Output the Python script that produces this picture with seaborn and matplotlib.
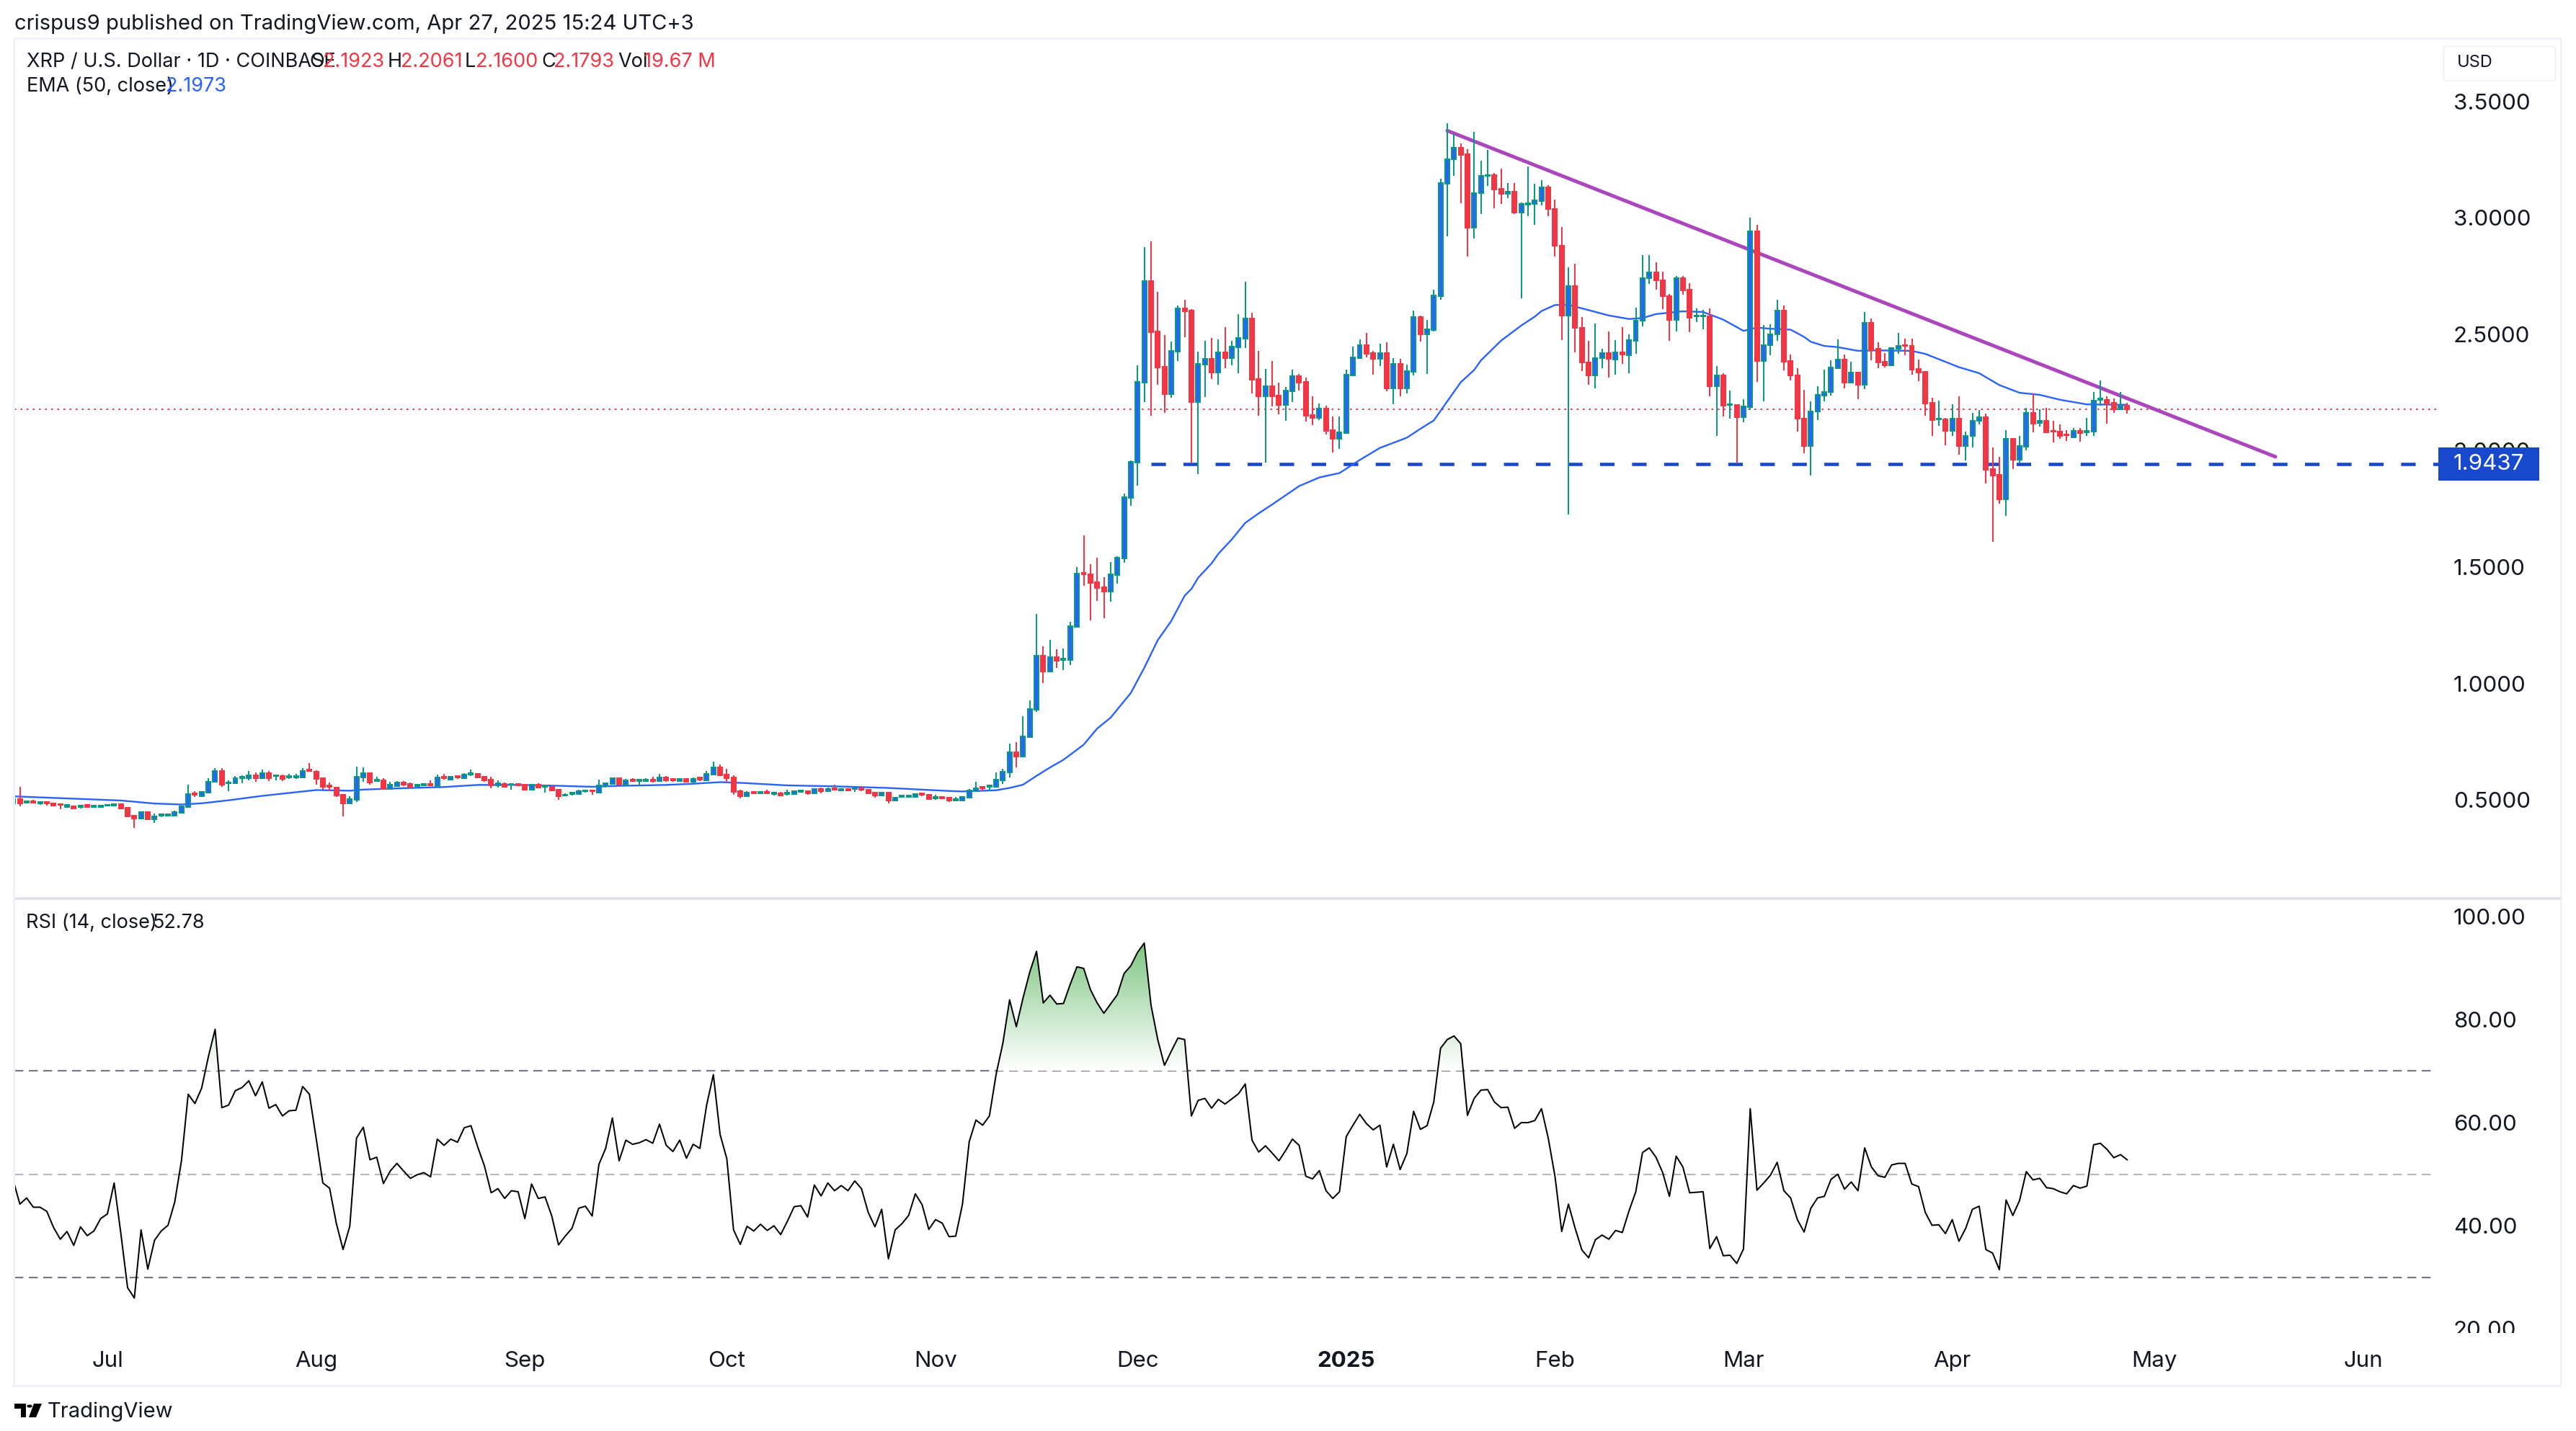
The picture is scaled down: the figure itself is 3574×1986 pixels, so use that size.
import numpy as np
import pandas as pd
import matplotlib.pyplot as plt
import matplotlib.dates as mdates
from matplotlib.colors import LinearSegmentedColormap
from matplotlib.patches import Rectangle, Circle, Polygon, FancyBboxPatch
from matplotlib.path import Path
from matplotlib.transforms import Bbox
import seaborn as sns

# XRP/USD daily candles, one value per day from 2024-06-17
start_date = "2024-06-17"

opens = [.485,
    .503,.488,.495,.485,.490,.485,.482,.470,.473,.469,.477,.468,.468,.474,.474,.482,.466,.432,.421,.448,
    .415,.433,.432,.433,.445,.470,.528,.516,.532,.576,.624,.570,.570,.594,.593,.606,.593,.615,.601,.603,
    .595,.595,.596,.630,.621,.593,.562,.553,.522,.485,.500,.596,.615,.581,.584,.547,.560,.575,.569,.559,
    .562,.569,.559,.600,.587,.603,.593,.609,.612,.600,.587,.562,.569,.564,.569,.565,.544,.565,.556,.556,
    .544,.520,.526,.525,.536,.541,.531,.559,.569,.593,.565,.587,.582,.581,.587,.581,.596,.590,.581,.590,
    .578,.595,.584,.609,.640,.609,.596,.538,.516,.534,.528,.534,.525,.528,.525,.525,.534,.538,.528,.547,
    .538,.550,.541,.547,.545,.550,.544,.531,.519,.531,.497,.513,.513,.513,.528,.522,.507,.513,.510,.497,
    .497,.510,.537,.555,.556,.555,.583,.617,.704,.685,.769,.887,1.119,1.051,1.113,1.100,1.100,1.243,1.475,1.469,
    1.435,1.413,1.394,1.466,1.537,1.798,1.949,2.293,2.729,2.512,2.361,2.243,2.426,2.611,2.602,2.209,2.370,2.395,2.336,2.423,
    2.398,2.444,2.481,2.568,2.308,2.234,2.277,2.237,2.197,2.255,2.320,2.296,2.153,2.141,2.181,2.088,2.051,2.076,2.323,2.398,
    2.453,2.419,2.395,2.419,2.268,2.373,2.268,2.339,2.574,2.500,2.519,2.664,3.147,3.251,3.301,3.275,2.958,3.108,3.182,3.183,
    3.125,3.104,3.113,3.022,3.058,3.060,3.072,3.133,3.040,2.881,2.582,2.707,2.529,2.379,2.323,2.398,2.420,2.391,2.424,2.410,
    2.472,2.559,2.740,2.766,2.732,2.664,2.563,2.741,2.691,2.576,2.577,2.577,2.277,2.322,2.196,2.197,2.143,2.188,2.944,2.384,
    2.454,2.500,2.601,2.384,2.325,2.139,2.019,2.168,2.236,2.251,2.354,2.393,2.292,2.337,2.282,2.548,2.437,2.381,2.368,2.437,
    2.455,2.452,2.350,2.340,2.207,2.135,2.136,2.086,2.139,2.021,2.062,2.127,2.145,1.922,1.897,1.792,2.052,1.962,2.018,2.161,
    2.120,2.127,2.085,2.082,2.071,2.058,2.086,2.079,2.083,2.218,2.219,2.207,2.179,2.1923]

highs = [.503,
    .555,.497,.500,.495,.490,.488,.482,.479,.476,.476,.480,.476,.477,.482,.485,.485,.466,.432,.448,.448,
    .442,.439,.442,.454,.476,.565,.538,.538,.593,.637,.637,.584,.603,.606,.624,.618,.630,.624,.609,.609,
    .612,.612,.637,.658,.627,.593,.575,.556,.525,.516,.643,.640,.618,.600,.593,.578,.581,.581,.575,.569,
    .569,.584,.609,.612,.603,.603,.615,.630,.612,.600,.600,.584,.575,.569,.572,.565,.569,.572,.565,.559,
    .547,.528,.532,.544,.541,.541,.587,.572,.596,.593,.590,.593,.587,.593,.600,.612,.603,.593,.590,.593,
    .596,.596,.624,.665,.652,.634,.606,.544,.538,.534,.534,.544,.534,.534,.544,.541,.541,.538,.550,.553,
    .553,.565,.550,.547,.550,.559,.547,.531,.531,.531,.513,.519,.519,.528,.528,.522,.522,.513,.510,.512,
    .515,.546,.577,.558,.562,.617,.633,.741,.747,.859,.927,1.298,1.159,1.187,1.147,1.150,1.264,1.500,1.636,1.512,
    1.540,1.456,1.521,1.546,1.816,1.958,2.367,2.875,2.899,2.683,2.497,2.469,2.624,2.649,2.608,2.426,2.472,2.484,2.478,2.531,
    2.472,2.587,2.726,2.593,2.429,2.351,2.385,2.293,2.274,2.348,2.330,2.314,2.234,2.203,2.193,2.147,2.147,2.348,2.447,2.478,
    2.506,2.429,2.460,2.466,2.398,2.395,2.370,2.602,2.580,2.562,2.692,3.170,3.408,3.362,3.321,3.296,3.371,3.245,3.293,3.194,
    3.212,3.150,3.150,3.065,3.221,3.146,3.162,3.140,3.078,2.960,2.789,2.804,2.575,2.471,2.546,2.437,2.512,2.475,2.531,2.500,
    2.614,2.841,2.839,2.810,2.768,2.672,2.751,2.751,2.720,2.612,2.606,2.612,2.365,2.332,2.257,2.201,2.220,3.003,2.972,2.540,
    2.543,2.648,2.623,2.413,2.353,2.263,2.213,2.278,2.347,2.390,2.477,2.412,2.381,2.340,2.595,2.567,2.467,2.418,2.443,2.505,
    2.480,2.480,2.393,2.343,2.226,2.216,2.142,2.201,2.235,2.083,2.161,2.176,2.158,2.015,1.975,2.089,2.055,2.065,2.185,2.247,
    2.179,2.185,2.127,2.114,2.089,2.099,2.096,2.142,2.251,2.303,2.235,2.223,2.251,2.2061]

lows = [.485,
    .472,.486,.485,.479,.476,.473,.460,.468,.463,.464,.466,.466,.466,.471,.473,.460,.429,.380,.420,.414,
    .401,.426,.429,.432,.442,.469,.513,.516,.531,.575,.556,.538,.569,.572,.584,.578,.590,.581,.584,.581,
    .590,.590,.593,.624,.565,.544,.538,.513,.429,.484,.491,.578,.565,.580,.544,.544,.559,.559,.550,.553,
    .560,.562,.559,.587,.585,.590,.590,.603,.593,.578,.550,.553,.556,.544,.559,.541,.544,.553,.531,.538,
    .500,.519,.519,.525,.531,.522,.531,.554,.565,.565,.559,.578,.560,.578,.575,.578,.578,.578,.581,.578,
    .572,.581,.584,.606,.606,.575,.522,.507,.513,.525,.525,.528,.519,.519,.519,.525,.534,.522,.525,.528,
    .534,.541,.538,.538,.534,.538,.528,.510,.519,.485,.497,.513,.510,.513,.516,.500,.500,.503,.491,.493,
    .497,.510,.537,.537,.537,.552,.568,.596,.639,.682,.769,.877,1.001,1.051,1.066,1.057,1.079,1.243,1.419,1.271,
    1.354,1.280,1.351,1.428,1.520,1.763,1.850,2.209,2.150,2.283,2.162,2.227,2.385,2.488,1.949,1.899,2.231,2.308,2.283,2.354,
    2.367,2.333,2.441,2.246,2.150,1.949,2.190,2.156,2.128,2.209,2.258,2.125,2.110,2.132,2.070,1.992,2.008,2.076,2.323,2.395,
    2.401,2.327,2.364,2.255,2.200,2.234,2.246,2.323,2.469,2.330,2.512,2.649,2.922,3.180,3.063,2.833,2.912,3.016,3.139,3.041,
    3.059,3.084,3.016,2.656,3.008,2.972,3.054,3.007,2.833,2.475,1.726,2.422,2.343,2.283,2.269,2.355,2.314,2.326,2.372,2.333,
    2.415,2.534,2.718,2.693,2.609,2.471,2.512,2.671,2.509,2.552,2.521,2.235,2.065,2.148,2.139,1.950,2.121,2.175,2.297,2.213,
    2.410,2.471,2.344,2.303,2.083,1.990,1.892,2.133,2.213,2.238,2.354,2.269,2.292,2.220,2.266,2.390,2.356,2.359,2.365,2.415,
    2.409,2.328,2.300,2.151,2.062,2.108,2.024,2.065,1.984,1.959,2.015,2.114,1.860,1.609,1.773,1.721,1.922,1.947,2.003,2.080,
    2.105,2.080,2.037,2.052,2.043,2.058,2.040,2.062,2.065,2.192,2.117,2.164,2.179,2.1600]

closes = [.503,
    .485,.495,.488,.492,.485,.476,.477,.477,.464,.475,.469,.474,.475,.479,.482,.463,.430,.420,.448,.415,
    .429,.437,.439,.448,.473,.525,.522,.534,.578,.624,.566,.575,.593,.600,.606,.593,.615,.593,.606,.590,
    .603,.603,.624,.624,.590,.556,.556,.519,.485,.503,.600,.615,.575,.587,.545,.565,.575,.565,.556,.565,
    .567,.562,.596,.593,.600,.596,.609,.615,.597,.584,.562,.572,.556,.569,.562,.544,.565,.553,.562,.541,
    .516,.523,.531,.538,.541,.536,.562,.572,.593,.565,.584,.581,.587,.587,.581,.596,.584,.584,.590,.578,
    .590,.587,.612,.640,.606,.593,.534,.516,.531,.528,.534,.528,.532,.519,.531,.538,.541,.528,.547,.538,
    .547,.544,.547,.541,.550,.544,.528,.519,.531,.497,.510,.519,.519,.525,.522,.503,.513,.507,.497,.503,
    .512,.539,.551,.549,.562,.586,.620,.704,.685,.772,.890,1.119,1.051,1.113,1.097,1.106,1.246,1.472,1.469,1.432,
    1.410,1.394,1.469,1.540,1.800,1.952,2.296,2.729,2.509,2.358,2.243,2.429,2.611,2.599,2.209,2.373,2.395,2.336,2.423,2.398,
    2.447,2.484,2.568,2.305,2.234,2.277,2.234,2.197,2.258,2.320,2.293,2.150,2.141,2.181,2.085,2.051,2.079,2.327,2.401,2.453,
    2.416,2.395,2.419,2.268,2.373,2.268,2.342,2.574,2.500,2.522,2.667,3.150,3.251,3.301,3.272,2.958,3.108,3.180,3.185,3.122,
    3.104,3.112,3.022,3.059,3.062,3.075,3.133,3.039,2.881,2.582,2.707,2.528,2.379,2.323,2.398,2.420,2.395,2.424,2.414,2.474,
    2.560,2.741,2.766,2.732,2.663,2.563,2.741,2.690,2.571,2.581,2.581,2.277,2.322,2.193,2.201,2.143,2.190,2.944,2.384,2.454,
    2.501,2.601,2.381,2.325,2.137,2.019,2.170,2.240,2.253,2.359,2.393,2.292,2.337,2.282,2.548,2.433,2.378,2.368,2.440,2.452,
    2.451,2.347,2.337,2.204,2.133,2.139,2.086,2.139,2.021,2.065,2.130,2.145,1.919,1.894,1.792,2.052,1.962,2.021,2.161,2.117,
    2.127,2.080,2.082,2.065,2.068,2.086,2.077,2.085,2.216,2.223,2.204,2.179,2.192,2.1793]

# EMA 50 read at a handful of days, days counted from start_date
ema_days = [0,8,16,21,25,28,32,37,45,50,52,58,64,69,75,80,86,90,97,101,105,108,115,122,130,139,141,146,148,150,152,
    154,156,159,161,163,166,168,170,172,174,175,176,178,179,181,183,185,187,191,194,197,200,203,207,209,211,215,217,
    218,221,224,226,227,229,231,234,237,240,242,244,246,248,251,254,257,259,261,264,266,267,269,271,274,277,282,284,
    289,292,295,298,301,304,308,314]
ema_values = [.515,.506,.497,.484,.480,.485,.498,.517,.542,.539,.544,.550,.555,.564,.564,.561,.556,.560,.564,.569,.576,
    .573,.562,.558,.551,.538,.536,.541,.551,.565,.603,.639,.672,.737,.806,.853,.959,1.067,1.186,1.268,1.377,1.406,
    1.454,1.516,1.557,1.619,1.690,1.731,1.769,1.848,1.885,1.904,1.960,2.012,2.056,2.094,2.130,2.294,2.347,2.388,
    2.473,2.538,2.576,2.600,2.626,2.627,2.604,2.581,2.566,2.570,2.587,2.593,2.599,2.596,2.563,2.515,2.529,2.524,
    2.520,2.489,2.468,2.450,2.445,2.429,2.431,2.429,2.416,2.359,2.333,2.282,2.249,2.240,2.219,2.199,2.1973]

# RSI 14, same days as the candles
rsi = [48.9,
    44.2,45.4,43.6,43.6,42.8,39.7,37.4,38.9,36.2,39.8,38.1,39.0,41.4,42.3,48.3,38.5,28.0,26.0,39.2,31.6,
    37.2,39.0,40.1,44.6,52.6,65.5,63.7,66.7,72.8,78.1,62.9,63.4,66.2,66.8,68.1,65.2,67.9,62.8,63.5,61.3,
    62.3,62.4,67.0,65.5,57.0,48.3,47.3,40.5,35.4,39.9,57.0,59.1,52.8,53.3,48.2,50.6,52.1,50.6,49.2,49.9,
    50.3,49.5,56.8,55.6,56.8,56.2,59.0,59.4,55.3,51.6,46.4,47.2,45.3,46.8,46.6,41.4,48.1,45.3,45.6,41.9,
    36.3,38.0,39.5,43.4,43.8,41.9,51.9,55.0,60.9,52.6,56.6,55.8,56.1,56.7,56.0,59.7,55.6,54.4,56.6,53.1,
    55.8,55.0,63.4,69.3,57.7,53.0,39.2,36.4,39.9,39.0,40.3,39.1,40.0,38.3,40.9,43.7,43.9,41.7,47.9,45.8,
    48.3,46.8,47.8,46.8,48.7,47.2,42.6,39.8,43.2,33.6,39.2,40.4,42.0,46.2,44.1,39.3,41.2,40.5,37.9,38.0,
    44.2,56.3,60.5,59.5,61.3,69.4,75.4,83.8,78.6,84.2,89.2,93.2,83.2,84.7,83.0,83.1,86.8,90.2,89.9,85.8,
    83.2,81.2,83.0,84.8,88.9,90.4,93.0,94.8,82.8,76.1,71.1,73.8,76.4,76.1,61.3,64.3,64.7,62.8,64.5,63.6,
    64.6,65.6,67.5,56.6,54.3,55.5,54.1,52.6,54.6,56.8,55.6,49.6,49.1,50.7,46.8,45.3,46.6,57.3,59.5,61.6,
    59.8,58.6,59.5,51.4,55.8,50.9,54.0,62.2,58.7,59.4,64.0,74.4,76.1,76.8,75.3,61.4,64.7,66.3,66.4,64.0,
    62.9,63.0,58.9,60.0,60.0,60.4,62.7,57.0,49.6,38.9,44.2,39.5,35.3,33.8,37.3,38.2,37.4,39.1,38.7,42.9,
    46.6,54.2,55.1,53.3,50.3,45.7,53.5,51.4,46.4,46.5,46.6,35.6,37.9,34.2,34.3,32.7,35.5,62.7,46.9,48.3,
    49.8,52.3,46.8,45.4,41.2,38.8,43.4,45.4,45.7,49.0,50.0,47.1,48.5,46.8,55.1,51.4,49.7,49.4,51.8,52.1,
    52.1,48.1,47.6,42.6,40.1,40.2,38.5,41.2,37.0,39.5,43.2,43.8,35.4,34.7,31.5,45.0,42.0,44.9,50.5,48.9,
    49.2,47.4,47.2,46.6,46.2,47.8,47.3,47.7,55.7,56.0,54.8,53.2,53.8,52.78]

price_ticks = [0.5, 1.0, 1.5, 2.0, 2.5, 3.0, 3.5]
rsi_ticks = [20, 40, 60, 80, 100]
month_ticks = ["2024-07-01", "2024-08-01", "2024-09-01", "2024-10-01", "2024-11-01", "2024-12-01",
               "2025-01-01", "2025-02-01", "2025-03-01", "2025-04-01", "2025-05-01", "2025-06-01"]
month_labels = ["Jul", "Aug", "Sep", "Oct", "Nov", "Dec", "2025", "Feb", "Mar", "Apr", "May", "Jun"]

support_level = 1.9437
last_close = 2.1793
trend_dates = ["2025-01-16", "2025-05-19"]
trend_prices = [3.375, 1.974]

GREEN = "#089981"
RED = "#F23645"
BLUE = "#2962FF"
NAVY = "#1848CC"
PURPLE = "#AB47BC"
INK = "#131722"
BORDER = "#F0F3FA"

W, H = 3574, 1986
sns.set_theme(style="white")
plt.rcParams["font.family"] = ["Inter", "DejaVu Sans"]

candles = pd.DataFrame({"date": pd.date_range(start_date, periods=len(opens)),
                        "open": opens, "high": highs, "low": lows, "close": closes, "rsi": rsi})
candles["up"] = candles["close"] >= candles["open"]
ema = pd.DataFrame({"date": pd.Timestamp(start_date) + pd.to_timedelta(ema_days, unit="D"), "ema": ema_values})

fig = plt.figure(figsize=(W / 100, H / 100), dpi=100, facecolor="white")


def px_axes(x0, y0, x1, y1):
    return fig.add_axes([x0 / W, 1 - y1 / H, (x1 - x0) / W, (y1 - y0) / H])


def px_text(x, y, s, size=19, color=INK, **kw):
    fig.text(x / W, 1 - y / H, s, fontsize=size, color=color, va="center", **kw)


def px_rect(x0, y0, x1, y1, color):
    fig.add_artist(Rectangle((x0 / W, 1 - y1 / H), (x1 - x0) / W, (y1 - y0) / H, transform=fig.transFigure,
                             facecolor=color, edgecolor="none"))


ax = px_axes(20, 53, 3383, 1247)
ax_rsi = px_axes(20, 1249, 3383, 1850)

# x limits: one day is 9.34 px, first full candle sits at x=27.6
x_left = pd.Timestamp("2024-06-18") - pd.Timedelta(days=0.81)
x_right = pd.Timestamp("2024-06-18") + pd.Timedelta(days=359.2)

# price pane
ax.axhline(last_close, color=RED, lw=1.44, ls=(0, (1.25, 3)), zorder=1)
ax.hlines(support_level, pd.Timestamp("2024-12-03"), x_right, color=NAVY, lw=3.3, ls=(0, (4.4, 5.3)), zorder=1)
ax.plot(pd.to_datetime(trend_dates), trend_prices, color=PURPLE, lw=3.6, zorder=1.5, solid_capstyle="round")
sns.lineplot(data=ema, x="date", y="ema", ax=ax, color=BLUE, linewidth=1.7, errorbar=None, zorder=2)

wick_colors = [GREEN if u else RED for u in candles["up"]]
ax.vlines(candles["date"], candles["low"], candles["high"], colors=wick_colors, lw=1.44, zorder=3)
body_bottom = candles[["open", "close"]].min(axis=1)
body_height = (candles["close"] - candles["open"]).abs()
ax.bar(candles["date"], body_height, bottom=body_bottom, width=0.64,
       color=[BLUE if u else RED for u in candles["up"]], edgecolor=wick_colors, linewidth=1.44, zorder=4)

ax.set_xlim(x_left, x_right)
ax.set_ylim(0.0759, 3.7724)
ax.set_yticks(price_ticks)
ax.set_yticklabels([f"{t:.4f}" for t in price_ticks])
ax.set_xticks([])

# rsi pane
x_num = mdates.date2num(candles["date"])
rsi_arr = np.array(rsi)
sns.lineplot(data=candles, x="date", y="rsi", ax=ax_rsi, color="black", linewidth=1.45, errorbar=None, zorder=3)
ax_rsi.hlines([70, 30], x_left, pd.Timestamp("2024-06-18") + pd.Timedelta(days=358.3), color="#787B86", lw=1.6,
              ls=(0, (5.6, 3.4)), zorder=1)
ax_rsi.hlines(50, x_left, pd.Timestamp("2024-06-18") + pd.Timedelta(days=358.3), color="#B8BAC2", lw=1.6,
              ls=(0, (5.6, 3.4)), zorder=1)

fade = LinearSegmentedColormap.from_list("fade", ["white", "#66BB6A"])
over = ax_rsi.fill_between(x_num, 70, rsi_arr, where=rsi_arr > 70, interpolate=True, alpha=0)
im = ax_rsi.imshow(np.linspace(0, 1, 256).reshape(-1, 1), extent=[x_num[0], x_num[-1], 70, 100], origin="lower",
                   cmap=fade, aspect="auto", zorder=2)
im.set_clip_path(Path.make_compound_path(*over.get_paths()), transform=ax_rsi.transData)

ax_rsi.set_xlim(x_left, x_right)
ax_rsi.set_ylim(19.22, 103.16)
ax_rsi.set_yticks(rsi_ticks)
ax_rsi.set_yticklabels([f"{t:.2f}" for t in rsi_ticks])
ax_rsi.set_xticks(pd.to_datetime(month_ticks))
ax_rsi.set_xticklabels(month_labels)
for lbl in ax_rsi.get_xticklabels():
    if lbl.get_text() == "2025":
        lbl.set_fontweight("bold")

for a in (ax, ax_rsi):
    a.set_xlabel("")
    a.set_ylabel("")
    a.yaxis.tick_right()
    a.tick_params(axis="y", length=0, pad=15, labelsize=22.5, labelcolor=INK)
    a.tick_params(axis="x", length=0, pad=18, labelsize=22.5, labelcolor=INK)
    for s in a.spines.values():
        s.set_visible(False)
    a.grid(False)
    a.set_facecolor("white")

# the 20.00 label is cut by the pane edge
clip_box = Bbox([[0, H - 1850], [W, H]])
for lbl in ax_rsi.get_yticklabels():
    lbl.set_clip_box(clip_box)
    lbl.set_clip_on(True)

# frame
px_rect(18, 52, 3555, 55, BORDER)
px_rect(18, 52, 21, 1925, BORDER)
px_rect(3552, 52, 3555, 1925, BORDER)
px_rect(18, 1922, 3555, 1925, BORDER)
px_rect(20, 1245, 3553, 1249, "#E0E3EB")

# support label on the scale
px_rect(3383, 621, 3523, 667, NAVY)
px_text(3404, 644, "1.9437", size=22.5, color="white")

# currency button
fig.add_artist(FancyBboxPatch((3394 / W, 1 - 110 / H), 148 / W, 44 / H, boxstyle="round,pad=0.001,rounding_size=0.002",
                              transform=fig.transFigure, facecolor="white", edgecolor=BORDER, linewidth=1.5))
px_text(3409, 87, "USD", size=17)

# header and legends
px_text(20, 33, "crispus9 published on TradingView.com, Apr 27, 2025 15:24 UTC+3", size=21)
px_text(37, 86, "XRP / U.S. Dollar · 1D · COINBASE", size=19.5)
for x, s, c in [(429, "O", INK), (448, "2.1923", RED), (538, "H", INK), (556, "2.2061", RED), (645, "L", INK),
                (660, "2.1600", RED), (751, "C", INK), (768, "2.1793", RED), (857, "Vol", INK), (893, "19.67 M", RED)]:
    px_text(x, 86, s, size=19.5, color=c)
px_text(37, 120, "EMA (50, close)", size=19.5)
px_text(230, 120, "2.1973", size=19.5, color=BLUE)
px_text(36, 1281, "RSI (14, close)", size=19.5)
px_text(212, 1281, "52.78", size=19.5)

# TradingView mark and wordmark
px_rect(20, 1948, 36, 1955, "black")
px_rect(29, 1955, 36, 1967, "black")
fig.add_artist(Circle((41 / W, 1 - 1951.5 / H), 3.7 / W, transform=fig.transFigure, facecolor="black", edgecolor="none"))
fig.add_artist(Polygon([(47 / W, 1 - 1948 / H), (58 / W, 1 - 1948 / H), (50 / W, 1 - 1967 / H), (40 / W, 1 - 1967 / H)],
                       transform=fig.transFigure, facecolor="black", edgecolor="none"))
px_text(66, 1959, "TradingView", size=21)

fig.savefig("out.png", dpi=100, facecolor="white")
